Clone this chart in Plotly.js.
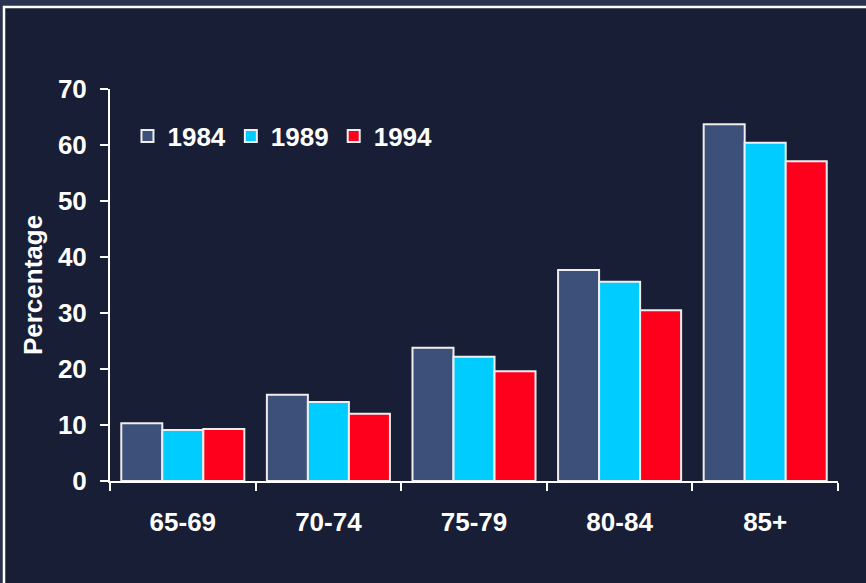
<!DOCTYPE html>
<html>
<head>
<meta charset="utf-8">
<script src="https://cdn.plot.ly/plotly-3.0.1.min.js"></script>
<style>
  html, body { margin: 0; padding: 0; background: #2a3350; }
  #chart { width: 866px; height: 583px; }
</style>
</head>
<body>
<div id="chart"></div>
<script>
// Age groups and the share (%) recorded in each survey year
const ageGroups = ["65-69", "70-74", "75-79", "80-84", "85+"];
const years = ["1984", "1989", "1994"];
const values1984 = [10.3, 15.4, 23.8, 37.7, 63.7];
const values1989 = [9.1, 14.1, 22.2, 35.6, 60.4];
const values1994 = [9.3, 12.0, 19.6, 30.5, 57.1];
const yTicks = [0, 10, 20, 30, 40, 50, 60, 70];

const seriesValues = [values1984, values1989, values1994];
const seriesColors = ["#3d5079", "#00ccff", "#ff001c"];

const FONT = "Liberation Sans, Arial, sans-serif";
const TEXT = { family: FONT, size: 26, color: "#ffffff", weight: "bold" };

const traces = years.map((yr, i) => ({
  type: "bar",
  name: yr,
  x: ageGroups,
  y: seriesValues[i],
  marker: {
    color: seriesColors[i],
    line: { color: "#eeeeee", width: 2 }
  },
  hoverinfo: "x+y+name"
}));

const layout = {
  width: 866,
  height: 583,
  margin: { l: 110, r: 28, t: 89, b: 102 },
  paper_bgcolor: "#2a3350",
  plot_bgcolor: "rgba(0,0,0,0)",
  font: TEXT,
  barmode: "group",
  bargap: 0.155,
  bargroupgap: 0,
  showlegend: true,
  legend: {
    orientation: "h",
    x: 0.024,
    y: 0.88,
    xanchor: "left",
    yanchor: "middle",
    bgcolor: "rgba(0,0,0,0)",
    font: TEXT,
    traceorder: "normal"
  },
  xaxis: {
    type: "category",
    showline: true,
    linecolor: "#ffffff",
    linewidth: 2,
    ticks: "outside",
    tickson: "boundaries",
    ticklen: 8,
    tickwidth: 2,
    tickcolor: "#ffffff",
    ticklabelstandoff: 17,
    showgrid: false,
    zeroline: false,
    tickfont: TEXT
  },
  yaxis: {
    range: [0, 70],
    tickvals: yTicks,
    ticktext: yTicks.map(String),
    showline: true,
    linecolor: "#ffffff",
    linewidth: 2,
    ticks: "outside",
    ticklen: 8,
    tickwidth: 2,
    tickcolor: "#ffffff",
    ticklabelstandoff: 8,
    showgrid: false,
    zeroline: false,
    tickfont: TEXT,
    title: {
      text: "Percentage",
      standoff: 8,
      font: TEXT
    }
  },
  shapes: [
    {
      // framed dark panel behind the chart
      type: "rect",
      xref: "paper", yref: "paper",
      x0: (4 - 110) / 728, x1: (900 - 110) / 728,
      y0: (481 - 620) / 392, y1: (481 - 7) / 392,
      fillcolor: "#171e35",
      line: { color: "#ffffff", width: 2.5 },
      layer: "below"
    }
  ]
};

Plotly.newPlot("chart", traces, layout, { displayModeBar: false, staticPlot: true });
</script>
</body>
</html>
